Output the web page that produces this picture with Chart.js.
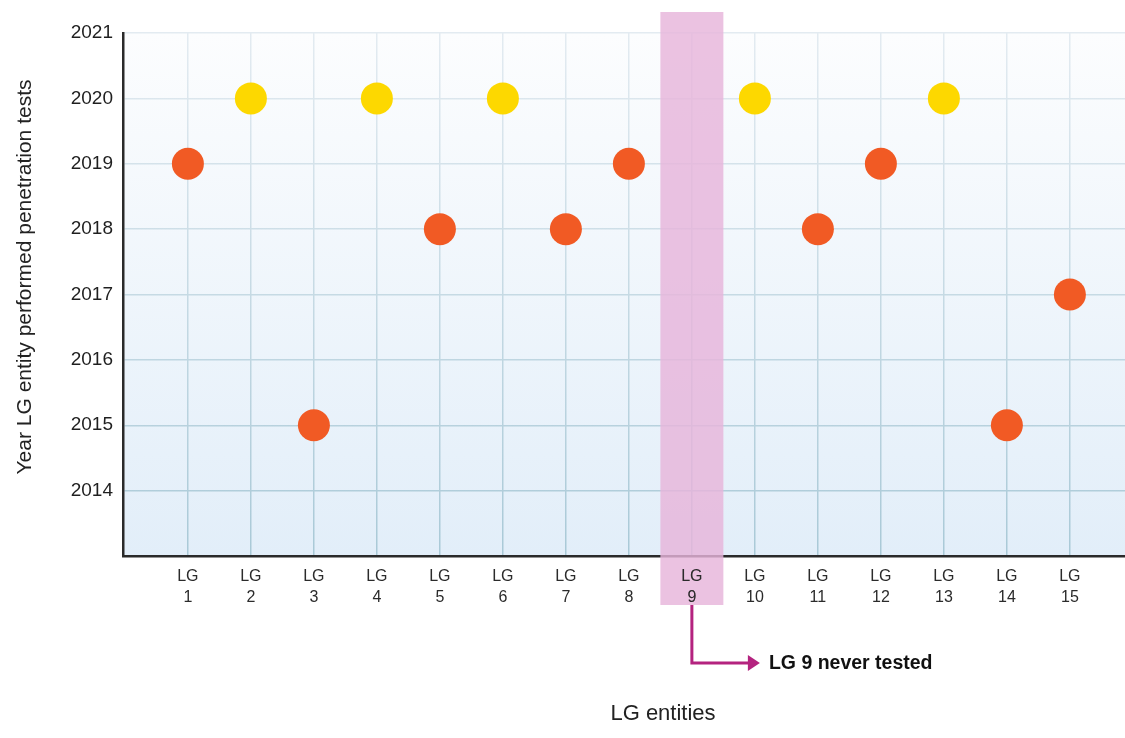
<!DOCTYPE html>
<html>
<head>
<meta charset="utf-8">
<script src="https://cdn.jsdelivr.net/npm/chart.js@4/dist/chart.umd.min.js"></script>
<style>
  html, body { margin: 0; padding: 0; background: #ffffff; }
  #wrap { width: 1125px; height: 738px; position: relative; }
</style>
</head>
<body>
<div id="wrap"><canvas id="chart" width="1125" height="738"></canvas></div>
<script>
// LG entities and the year each one last ran penetration tests (LG 9: never)
const categories = ['LG 1', 'LG 2', 'LG 3', 'LG 4', 'LG 5', 'LG 6', 'LG 7', 'LG 8',
                    'LG 9', 'LG 10', 'LG 11', 'LG 12', 'LG 13', 'LG 14', 'LG 15'];
const testYears = [2019, 2020, 2015, 2020, 2018, 2020, 2018, 2019,
                   null, 2020, 2018, 2019, 2020, 2015, 2017];
const yearTicks = [2014, 2015, 2016, 2017, 2018, 2019, 2020, 2021];
const neverTested = 'LG 9';
const noteText = 'LG 9 never tested';
const xTitle = 'LG entities';
const yTitle = 'Year LG entity performed penetration tests';

const FONT = "'Liberation Sans', Arial, Helvetica, sans-serif";
const ORANGE = '#f15a24';
const YELLOW = '#fdd800';
const RECENT_YEAR = 2020;

const points = categories.map((c, i) => ({ x: i + 1, y: testYears[i] }))
                         .filter(p => p.y !== null);

// vertical gradient helper bound to the plot area
function areaGradient(chart, top, bottom) {
  const a = chart.chartArea;
  if (!a) return top;
  const g = chart.ctx.createLinearGradient(0, a.top, 0, a.bottom);
  g.addColorStop(0, top);
  g.addColorStop(1, bottom);
  return g;
}

const plotBackground = {
  id: 'plotBackground',
  beforeDraw(chart) {
    const { ctx, chartArea: a } = chart;
    ctx.save();
    ctx.fillStyle = areaGradient(chart, '#fcfdfe', '#e2eef9');
    ctx.fillRect(a.left, a.top, a.right - a.left, a.bottom - a.top);
    ctx.restore();
  }
};

const highlightAndTitles = {
  id: 'highlightAndTitles',
  afterDraw(chart) {
    const { ctx, chartArea: a } = chart;
    const xs = chart.scales.x;
    const idx = categories.indexOf(neverTested) + 1;
    const x0 = xs.getPixelForValue(idx - 0.5);
    const x1 = xs.getPixelForValue(idx + 0.5);
    const xc = xs.getPixelForValue(idx);
    const bandTop = a.top - 21;
    const bandBottom = a.bottom + 49;

    ctx.save();
    // highlight column for the untested entity
    ctx.fillStyle = 'rgba(231, 181, 219, 0.82)';
    ctx.fillRect(x0, bandTop, x1 - x0, bandBottom - bandTop);

    // keep the category label legible on top of the column
    ctx.save();
    ctx.beginPath();
    ctx.rect(x0, a.bottom + 2, x1 - x0, bandBottom - a.bottom - 2);
    ctx.clip();
    xs.drawLabels(a);
    ctx.restore();

    // elbow arrow pointing to the note
    const elbowY = bandBottom + 58;
    const tipX = xc + 68;
    ctx.strokeStyle = '#b4237f';
    ctx.lineWidth = 3;
    ctx.beginPath();
    ctx.moveTo(xc, bandBottom);
    ctx.lineTo(xc, elbowY);
    ctx.lineTo(tipX - 10, elbowY);
    ctx.stroke();
    ctx.fillStyle = '#b4237f';
    ctx.beginPath();
    ctx.moveTo(tipX, elbowY);
    ctx.lineTo(tipX - 12, elbowY - 8);
    ctx.lineTo(tipX - 12, elbowY + 8);
    ctx.closePath();
    ctx.fill();

    ctx.fillStyle = '#111111';
    ctx.font = 'bold 19.5px ' + FONT;
    ctx.textAlign = 'left';
    ctx.textBaseline = 'middle';
    ctx.fillText(noteText, tipX + 9, elbowY + 1);

    // axis titles
    ctx.fillStyle = '#222222';
    ctx.font = '22px ' + FONT;
    ctx.textAlign = 'center';
    ctx.fillText(xTitle, 663, 714);

    ctx.font = '21px ' + FONT;
    ctx.translate(25, 277);
    ctx.rotate(-Math.PI / 2);
    ctx.fillText(yTitle, 0, 0);
    ctx.restore();
  }
};

new Chart(document.getElementById('chart'), {
  type: 'scatter',
  data: {
    datasets: [{
      data: points,
      showLine: false,
      pointRadius: 16,
      pointHoverRadius: 16,
      pointBorderWidth: 0,
      pointBackgroundColor: ctx => (ctx.raw && ctx.raw.y >= RECENT_YEAR ? YELLOW : ORANGE),
      borderColor: 'transparent',
      clip: false
    }]
  },
  options: {
    responsive: false,
    animation: false,
    events: [],
    layout: { autoPadding: false, padding: { left: 0, top: 33, right: 0, bottom: 0 } },
    plugins: { legend: { display: false }, tooltip: { enabled: false } },
    scales: {
      x: {
        type: 'linear',
        min: -0.03,
        max: 15.875,
        afterBuildTicks: axis => { axis.ticks = categories.map((c, i) => ({ value: i + 1 })); },
        afterFit: axis => { axis.height = 182; },
        ticks: {
          autoSkip: false,
          maxRotation: 0,
          padding: 10,
          color: '#2b2b2b',
          font: { family: FONT, size: 16, lineHeight: 1.3 },
          callback: v => {
            const c = categories[Math.round(v) - 1];
            return c ? c.split(' ') : '';
          }
        },
        grid: {
          drawTicks: false,
          lineWidth: 1.5,
          color: ctx => areaGradient(ctx.chart, '#e3ebf1', '#a9c9d7')
        },
        border: { display: true, color: '#2a2a2a', width: 2.5 }
      },
      y: {
        type: 'linear',
        min: 2013,
        max: 2021,
        afterBuildTicks: axis => { axis.ticks = yearTicks.map(v => ({ value: v })); },
        afterFit: axis => { axis.width = 123; },
        ticks: {
          padding: 10,
          color: '#1f1f1f',
          font: { family: FONT, size: 19 },
          callback: v => String(v)
        },
        grid: {
          drawTicks: false,
          lineWidth: 1.5,
          color: ctx => areaGradient(ctx.chart, '#e3ebf1', '#a9c9d7')
        },
        border: { display: true, color: '#2a2a2a', width: 2.5 }
      }
    }
  },
  plugins: [plotBackground, highlightAndTitles]
});
</script>
</body>
</html>
